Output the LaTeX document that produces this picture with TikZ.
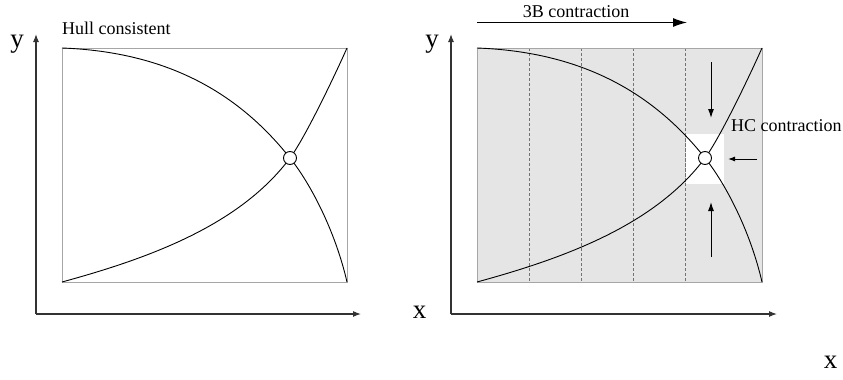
\documentclass[tikz,border=0pt]{standalone}
\usepackage{fontspec}
\setmainfont{Liberation Serif}
\usetikzlibrary{arrows.meta}
\begin{document}
\begin{tikzpicture}[x=1pt,y=-1pt,
  axis/.style={draw=black!80, line width=1.1pt, -{Latex[length=8pt,width=6pt]}},
  plotbox/.style={draw=black!35, line width=1pt},
  curve/.style={draw=black, line width=0.9pt},
  sol/.style={circle, draw=black, fill=white, line width=0.9pt, minimum size=13pt, inner sep=0pt},
  small/.style={font=\fontsize{18}{20}\selectfont, inner sep=0pt},
  big/.style={font=\fontsize{27}{29}\selectfont, inner sep=0pt},
  cut/.style={draw=black!55, line width=0.9pt, dash pattern=on 3pt off 2pt},
  push/.style={draw=black, line width=1pt, -{Latex[length=9pt,width=6pt]}}
]
\useasboundingbox (0,0) rectangle (843,380);

% ---------- left panel ----------
\coordinate (lo) at (36,314);
\coordinate (ly) at (36,34);
\coordinate (lx) at (361,314);
\draw[axis] (lo) -- (ly);
\draw[axis] (lo) -- (lx);
\node[big] (ylab1) at (17,44) {y};
\node[big] (xlab1) at (419.5,312) {x};
\node[small, anchor=base west] (hull) at (62,34) {Hull consistent};

\draw[plotbox] (62,48) rectangle (347,282);
\draw[curve] (62,48) .. controls (170,52) and (240,95) .. (290,158)
             .. controls (310,183) and (335,230) .. (347,282);
\draw[curve] (62,282) .. controls (150,258) and (240,225) .. (290,158)
             .. controls (305,138) and (335,75) .. (347,48);
\node[sol] (s1) at (290,158) {};

% ---------- right panel ----------
\coordinate (ro) at (451,314);
\coordinate (ry) at (451,34);
\coordinate (rx) at (777,314);
\draw[axis] (ro) -- (ry);
\draw[axis] (ro) -- (rx);
\node[big] (ylab2) at (432,44) {y};
\node[big] (xlab2) at (830.5,362) {x};

\fill[black!10] (477,48) rectangle (762,282);
\foreach \xx in {529,581,633,685} \draw[cut] (\xx,48) -- (\xx,282);
\fill[white] (686,134) rectangle (724,184);
\draw[cut] (685,134) -- (685,184);
\draw[plotbox] (477,48) rectangle (762,282);
\draw[curve] (477,48) .. controls (585,52) and (655,95) .. (705,158)
             .. controls (725,183) and (750,230) .. (762,282);
\draw[curve] (477,282) .. controls (565,258) and (655,225) .. (705,158)
             .. controls (720,138) and (750,75) .. (762,48);
\node[sol] (s2) at (705,158) {};

% 3B contraction
\coordinate (b3a) at (477,22.5);
\coordinate (b3b) at (687,22.5);
\draw[draw=black, line width=1.1pt, -{Latex[length=14pt,width=9pt]}] (b3a) -- (b3b);
\node[small, anchor=base] (b3t) at (576,17) {3B contraction};

% HC contraction
\coordinate (da) at (711,62);
\coordinate (db) at (711,118);
\coordinate (ua) at (711,257);
\coordinate (ub) at (711,202);
\coordinate (la) at (757,159);
\coordinate (lb) at (728,159);
\draw[push] (da) -- (db);
\draw[push] (ua) -- (ub);
\draw[draw=black, line width=1pt, -{Latex[length=7pt,width=5pt]}] (la) -- (lb);
\node[small, anchor=base west] (hct) at (731,131.5) {HC contraction};
\end{tikzpicture}
\end{document}
